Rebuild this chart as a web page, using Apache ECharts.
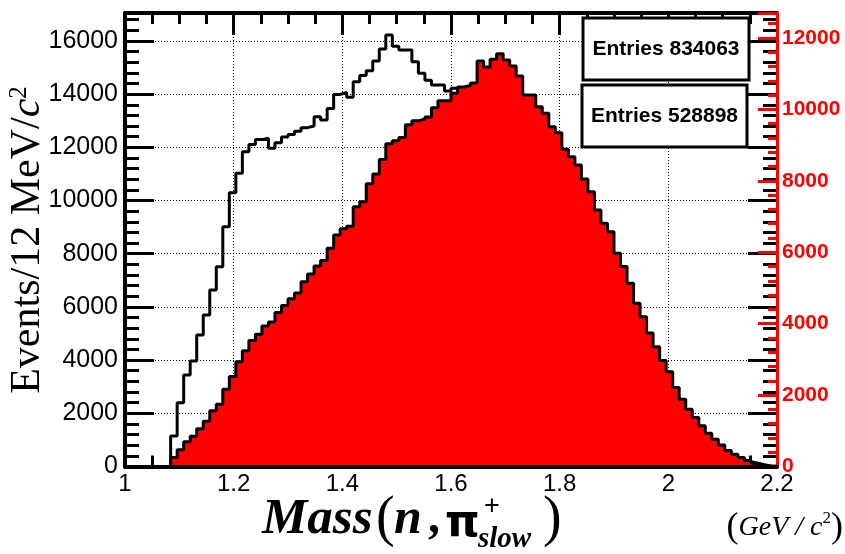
<!DOCTYPE html>
<html><head><meta charset="utf-8">
<script src="https://cdn.jsdelivr.net/npm/echarts@6/dist/echarts.min.js"></script>
<style>html,body{margin:0;padding:0;background:#fff}#c{width:845px;height:554px}</style>
</head><body><div id="c"></div>
<script>
// Histogram definition: 100 bins of 12 MeV from 1.0 to 2.2 GeV/c^2
const binStart = 1.0;
const binWidth = 0.012;

// Black (open) histogram, left axis, Entries 834063
const blackCounts = [
  0, 0, 0, 0, 0, 0, 0, 1147, 2400, 3440,
  3967, 4944, 5696, 6636, 7513, 9018, 10290, 11025, 11837, 12110,
  12290, 12340, 11964, 12175, 12390, 12480, 12600, 12740, 12800, 13152,
  13028, 13460, 13990, 14060, 13880, 14468, 14700, 14882, 15250, 15700,
  16224, 15800, 15660, 15660, 15220, 14784, 14520, 14344, 14340, 14120,
  14220, 14150, 14000, 13850, 13700, 13500, 13250, 13000, 12700, 12400,
  12050, 11700, 11300, 10900, 10500, 10100, 9650, 9200, 8750, 8300,
  7850, 7400, 6900, 6400, 5900, 5400, 4900, 4450, 4000, 3600,
  3200, 2850, 2500, 2200, 1900, 1650, 1400, 1200, 1000, 850,
  700, 560, 440, 340, 250, 180, 120, 70, 30, 10
];

// Red (filled) histogram, right axis, Entries 528898
const redCounts = [
  0, 0, 0, 0, 0, 0, 0, 250, 470, 690,
  845, 1055, 1270, 1560, 1745, 2165, 2520, 2935, 3240, 3530,
  3705, 3935, 4050, 4310, 4510, 4700, 4860, 5174, 5390, 5614,
  5770, 6110, 6482, 6660, 6730, 7274, 7414, 7920, 8190, 8600,
  9040, 9120, 9210, 9570, 9680, 9730, 9790, 10044, 10240, 10240,
  10450, 10630, 10670, 10740, 11358, 11186, 11402, 11560, 11382, 11218,
  10934, 10402, 10402, 10074, 9890, 9514, 9346, 8882, 8675, 8442,
  8050, 7694, 7182, 6810, 6574, 5970, 5600, 5130, 4570, 4194,
  3740, 3354, 2970, 2650, 2210, 1880, 1600, 1370, 1140, 930,
  760, 600, 450, 345, 250, 165, 90, 40, 0, 0
];

// Axis ranges and tick labels
const xRange = [1.0, 2.2];
const xTickLabels = ['1', '1.2', '1.4', '1.6', '1.8', '2', '2.2'];
const leftRange = [0, 17050];
const leftTickLabels = ['0', '2000', '4000', '6000', '8000', '10000', '12000', '14000', '16000'];
const rightRange = [0, 12700];
const rightTickLabels = ['0', '2000', '4000', '6000', '8000', '10000', '12000'];
const statTexts = ['Entries 834063', 'Entries 528898'];

function histPoints(counts) {
  const pts = counts.map((v, i) => [+(binStart + i * binWidth).toFixed(4), v]);
  pts.push([+(binStart + counts.length * binWidth).toFixed(4), counts[counts.length - 1]]);
  return pts;
}
function xLabel(v) {
  const i = Math.round((v - xRange[0]) / 0.2);
  return Math.abs(v - (xRange[0] + i * 0.2)) < 1e-6 ? (xTickLabels[i] || '') : '';
}
function leftLabel(v) { return v % 2000 === 0 ? (leftTickLabels[v / 2000] || '') : ''; }
function rightLabel(v) { return v % 2000 === 0 ? (rightTickLabels[v / 2000] || '') : ''; }

const chart = echarts.init(document.getElementById('c'), null, { renderer: 'canvas' });
const dotted = { color: '#000', width: 1, type: [1, 2] };
const serif = 'Liberation Serif';
const sans = 'Liberation Sans';

chart.setOption({
  animation: false,
  backgroundColor: '#fff',
  grid: { left: 125, right: 68, top: 13, bottom: 87.5, containLabel: false },
  xAxis: [
    {
      type: 'value', min: xRange[0], max: xRange[1], interval: 0.2, position: 'bottom', z: 0,
      axisLine: { show: false, onZero: false },
      axisTick: { show: true, inside: true, length: 22, lineStyle: { color: '#000', width: 3 } },
      minorTick: { show: true, splitNumber: 4, length: 11, lineStyle: { color: '#000', width: 3 } },
      axisLabel: { show: true, formatter: xLabel, fontFamily: sans, fontSize: 24, color: '#000', margin: 6 },
      splitLine: { show: true, lineStyle: dotted }
    },
    {
      type: 'value', min: xRange[0], max: xRange[1], interval: 0.2, position: 'bottom', z: 10,
      axisLine: { show: true, onZero: false, lineStyle: { color: '#000', width: 4 } },
      axisTick: { show: false }, minorTick: { show: false }, axisLabel: { show: false }, splitLine: { show: false }
    },
    {
      type: 'value', min: xRange[0], max: xRange[1], interval: 0.2, position: 'top', z: 0,
      axisLine: { show: true, onZero: false, lineStyle: { color: '#000', width: 4 } },
      axisTick: { show: true, inside: true, length: 22, lineStyle: { color: '#000', width: 3 } },
      minorTick: { show: true, splitNumber: 4, length: 11, lineStyle: { color: '#000', width: 3 } },
      axisLabel: { show: false }, splitLine: { show: false }
    }
  ],
  yAxis: [
    {
      type: 'value', min: leftRange[0], max: leftRange[1], interval: 2000, position: 'left', z: 0,
      axisLine: { show: true, onZero: false, lineStyle: { color: '#000', width: 4 } },
      axisTick: { show: true, inside: true, length: 29, lineStyle: { color: '#000', width: 3 } },
      minorTick: { show: true, splitNumber: 5, length: 14, lineStyle: { color: '#000', width: 3 } },
      axisLabel: { show: true, formatter: leftLabel, fontFamily: sans, fontSize: 25, color: '#000', margin: 7, showMaxLabel: false },
      splitLine: { show: true, lineStyle: dotted }
    },
    {
      type: 'value', min: leftRange[0], max: leftRange[1], interval: 2000, position: 'right', z: 0,
      axisLine: { show: false, onZero: false },
      axisTick: { show: true, inside: true, length: 29, lineStyle: { color: '#000', width: 3 } },
      minorTick: { show: true, splitNumber: 5, length: 14, lineStyle: { color: '#000', width: 3 } },
      axisLabel: { show: false }, splitLine: { show: false }
    },
    {
      type: 'value', min: rightRange[0], max: rightRange[1], interval: 2000, position: 'right', z: 1,
      axisLine: { show: true, onZero: false, lineStyle: { color: '#ff0000', width: 3 } },
      axisTick: { show: true, inside: true, length: 19, lineStyle: { color: '#ff0000', width: 3 } },
      minorTick: { show: true, splitNumber: 5, length: 9, lineStyle: { color: '#ff0000', width: 3 } },
      axisLabel: { show: true, formatter: rightLabel, fontFamily: sans, fontWeight: 'bold', fontSize: 21, color: '#ff0000', margin: 5, showMaxLabel: false },
      splitLine: { show: false }
    }
  ],
  series: [
    {
      type: 'line', xAxisIndex: 0, yAxisIndex: 0, data: histPoints(blackCounts), step: 'end',
      symbol: 'none', silent: true, z: 2,
      lineStyle: { color: '#000', width: 3 }
    },
    {
      type: 'line', xAxisIndex: 0, yAxisIndex: 2, data: histPoints(redCounts), step: 'end',
      symbol: 'none', silent: true, z: 3,
      lineStyle: { color: '#000', width: 3 },
      areaStyle: { color: '#ff0000', opacity: 1 }
    }
  ],
  graphic: [
    { type: 'text', x: 28, y: 240, rotation: Math.PI / 2, z: 100, silent: true,
      style: { text: '{a|Events/12 MeV/}{c|c}{s|2}', align: 'center', verticalAlign: 'middle',
        rich: {
          a: { fontFamily: serif, fontSize: 42, fill: '#000' },
          c: { fontFamily: serif, fontStyle: 'italic', fontSize: 42, fill: '#000' },
          s: { fontFamily: serif, fontSize: 25, fill: '#000', verticalAlign: 'top' }
        } } },
    { type: 'text', x: 262, y: 520, z: 100, silent: true,
      style: { text: 'Mass', font: 'italic bold 51px "Liberation Serif"', fill: '#000', align: 'left', verticalAlign: 'middle' } },
    { type: 'text', x: 376, y: 520.6, z: 100, silent: true,
      style: { text: '(', font: '56px "Liberation Serif"', fill: '#000', align: 'left', verticalAlign: 'middle' } },
    { type: 'text', x: 394, y: 520, z: 100, silent: true,
      style: { text: 'n', font: 'italic bold 50px "Liberation Serif"', fill: '#000', align: 'left', verticalAlign: 'middle' } },
    { type: 'text', x: 428, y: 520, z: 100, silent: true,
      style: { text: ',', font: 'bold 48px "Liberation Serif"', fill: '#000', align: 'left', verticalAlign: 'middle' } },
    { type: 'text', x: 445, y: 525, z: 100, silent: true,
      style: { text: 'π', font: 'bold 44px "DejaVu Sans"', fill: '#000', align: 'left', verticalAlign: 'middle' } },
    { type: 'text', x: 484, y: 507, z: 100, silent: true,
      style: { text: '+', font: '27px "Liberation Sans"', fill: '#000', align: 'left', verticalAlign: 'middle' } },
    { type: 'text', x: 478, y: 539.5, z: 100, silent: true,
      style: { text: 'slow', font: 'italic bold 29px "Liberation Serif"', fill: '#000', align: 'left', verticalAlign: 'middle' } },
    { type: 'text', x: 543, y: 520.6, z: 100, silent: true,
      style: { text: ')', font: '56px "Liberation Serif"', fill: '#000', align: 'left', verticalAlign: 'middle' } },
    { type: 'text', x: 843, y: 528, z: 100, silent: true,
      style: { text: '{p|(}{i|GeV / c}{s|2}{p|)}', align: 'right', verticalAlign: 'middle',
        rich: {
          p: { fontFamily: serif, fontSize: 36, fill: '#000' },
          i: { fontFamily: serif, fontStyle: 'italic', fontSize: 28, fill: '#000' },
          s: { fontFamily: serif, fontSize: 17, fill: '#000', verticalAlign: 'top' }
        } } },
    { type: 'rect', z: 100, silent: true, shape: { x: 583, y: 18, width: 166, height: 62 },
      style: { fill: '#fff', stroke: '#000', lineWidth: 3 } },
    { type: 'text', x: 666, y: 49, z: 101, silent: true,
      style: { text: statTexts[0], font: 'bold 21px "Liberation Sans"', fill: '#000', align: 'center', verticalAlign: 'middle' } },
    { type: 'rect', z: 100, silent: true, shape: { x: 582, y: 85, width: 165, height: 62 },
      style: { fill: '#fff', stroke: '#000', lineWidth: 3 } },
    { type: 'text', x: 664.5, y: 116, z: 101, silent: true,
      style: { text: statTexts[1], font: 'bold 21px "Liberation Sans"', fill: '#000', align: 'center', verticalAlign: 'middle' } }
  ]
});
</script>
</body></html>
